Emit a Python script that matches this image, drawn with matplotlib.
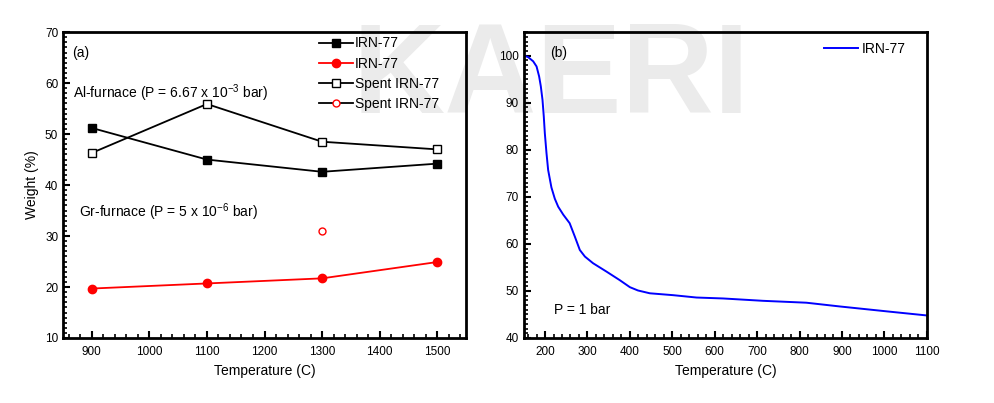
import matplotlib

matplotlib.use("Agg")
import matplotlib.pyplot as plt
from matplotlib.ticker import MultipleLocator

plt.rcParams["font.family"] = ["Liberation Sans", "DejaVu Sans"]
plt.rcParams["mathtext.fontset"] = "custom"
plt.rcParams["mathtext.rm"] = "Liberation Sans"

# panel (a): weight after heating in two furnaces
temps_a = [900, 1100, 1300, 1500]
irn_al = [51.2, 45.0, 42.6, 44.2]
spent_al = [46.3, 55.9, 48.5, 47.0]
irn_gr = [19.7, 20.7, 21.7, 24.9]
spent_gr_t = [1300]
spent_gr = [31.0]

# panel (b): TGA curve at 1 bar
tga_t = [150, 160, 172, 180, 186, 190, 194, 197, 199.5, 203.4, 207.3, 215,
         223, 231, 243, 258, 270, 282, 294, 313, 345, 376, 400, 419, 447,
         502, 557, 620, 714, 816, 895, 1012, 1099]
tga_w = [100, 99.7, 98.8, 97.7, 95.6, 93.5, 90.6, 87.1, 83.5, 79.3, 75.7,
         72.0, 69.6, 67.9, 66.2, 64.4, 61.6, 58.7, 57.3, 55.9, 54.1, 52.3,
         50.8, 50.1, 49.5, 49.1, 48.6, 48.4, 47.9, 47.5, 46.7, 45.6, 44.8]

fig = plt.figure(figsize=(9.94, 4.03), dpi=100)
fig.text(0.355, 0.72, "KAERI", fontsize=92, fontweight="bold", color="#ebebeb",
         zorder=-1)

ax1 = fig.add_axes([0.0634, 0.1613, 0.4054, 0.759])
ax2 = fig.add_axes([0.527, 0.1613, 0.4054, 0.759])


def style_axes(ax):
    ax.set_facecolor("none")
    for s in ax.spines.values():
        s.set_linewidth(2)
    ax.tick_params(which="both", direction="in", labelsize=8.5)
    ax.tick_params(which="major", length=5, width=1.5)
    ax.tick_params(which="minor", length=3, width=1.2)
    ax.tick_params(axis="x", pad=6)


style_axes(ax1)
ax1.plot(temps_a, irn_al, "-s", color="black", lw=1.3, ms=6, label="IRN-77")
ax1.plot(temps_a, irn_gr, "-o", color="red", lw=1.3, ms=6, label="IRN-77")
ax1.plot(temps_a, spent_al, "-s", color="black", lw=1.3, ms=6, mfc="white",
         label="Spent IRN-77")
ax1.plot(spent_gr_t, spent_gr, "-o", color="black", lw=1.3, ms=5, mfc="white",
         mec="red", label="Spent IRN-77")
ax1.set_xlim(850, 1550)
ax1.set_ylim(10, 70)
ax1.xaxis.set_major_locator(MultipleLocator(100))
ax1.xaxis.set_minor_locator(MultipleLocator(20))
ax1.yaxis.set_major_locator(MultipleLocator(10))
ax1.yaxis.set_minor_locator(MultipleLocator(1))
ax1.set_xlabel("Temperature (C)", fontsize=10)
ax1.set_ylabel("Weight (%)", fontsize=10)
ax1.legend(loc="upper left", bbox_to_anchor=(0.615, 1.013), frameon=False,
           fontsize=10, handlelength=2.4, handletextpad=0.15,
           labelspacing=0.45, borderaxespad=0.2)
ax1.text(0.022, 0.955, "(a)", transform=ax1.transAxes, fontsize=10, va="top")
ax1.text(0.025, 0.8, r"Al-furnace (P = 6.67 x 10$^{-3}$ bar)",
         transform=ax1.transAxes, fontsize=10, va="center")
ax1.text(0.04, 0.41, r"Gr-furnace (P = 5 x 10$^{-6}$ bar)",
         transform=ax1.transAxes, fontsize=10, va="center")

style_axes(ax2)
ax2.plot(tga_t, tga_w, color="blue", lw=1.4, label="IRN-77")
ax2.set_xlim(150, 1100)
ax2.set_ylim(40, 105)
ax2.xaxis.set_major_locator(MultipleLocator(100))
ax2.xaxis.set_minor_locator(MultipleLocator(20))
ax2.yaxis.set_major_locator(MultipleLocator(10))
ax2.yaxis.set_minor_locator(MultipleLocator(1))
ax2.set_xlabel("Temperature (C)", fontsize=10)
ax2.legend(loc="upper left", bbox_to_anchor=(0.725, 0.995), frameon=False,
           fontsize=10, handlelength=2.4, handletextpad=0.3, borderaxespad=0.2)
ax2.text(0.065, 0.955, "(b)", transform=ax2.transAxes, fontsize=10, va="top")
ax2.text(0.075, 0.09, "P = 1 bar", transform=ax2.transAxes, fontsize=10,
         va="center")

fig.savefig("out.png", dpi=100)
